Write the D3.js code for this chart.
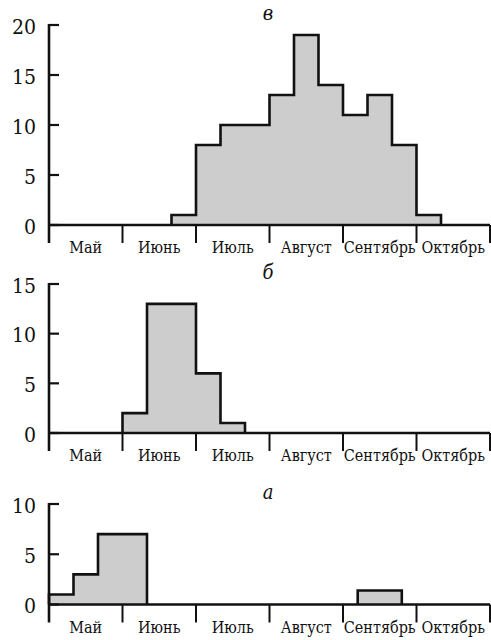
<!DOCTYPE html>
<html>
<head>
<meta charset="utf-8">
<script src="https://cdn.jsdelivr.net/npm/d3@7"></script>
<style>
  html, body { margin: 0; padding: 0; background: #fff; }
  svg { display: block; }
</style>
</head>
<body>
<svg id="chart" width="491" height="640"></svg>
<script>
// Month names along every x axis; each month is split into three ten-day periods
const months = ["Май", "Июнь", "Июль", "Август", "Сентябрь", "Октябрь"];

// Panel в: counts per ten-day period (period index counted from 1–10 May)
const vStart  = [5, 6, 7, 8, 9, 10, 11, 12, 13, 14, 15];
const vEnd    = [6, 7, 8, 9, 10, 11, 12, 13, 14, 15, 16];
const vCounts = [1, 8, 10, 10, 13, 19, 14, 11, 13, 8, 1];
const vTicks  = [0, 5, 10, 15, 20];

// Panel б
const bStart  = [3, 4, 5, 6, 7];
const bEnd    = [4, 5, 6, 7, 8];
const bCounts = [2, 13, 13, 6, 1];
const bTicks  = [0, 5, 10, 15];

// Panel а (the autumn record spans a shorter interval)
const aStart  = [0, 1, 2, 3, 12.6];
const aEnd    = [1, 2, 3, 4, 14.4];
const aCounts = [1, 3, 7, 7, 1.4];
const aTicks  = [0, 5, 10];

const panels = [
  { letter: "в", start: vStart, end: vEnd, counts: vCounts, ticks: vTicks, top: 25,  zero: 225 },
  { letter: "б", start: bStart, end: bEnd, counts: bCounts, ticks: bTicks, top: 284, zero: 433 },
  { letter: "а", start: aStart, end: aEnd, counts: aCounts, ticks: aTicks, top: 504, zero: 604.5 }
];

const FONT = "'DejaVu Serif Condensed', 'DejaVu Serif', serif";

const svg = d3.select("#chart");
const x = d3.scaleLinear().domain([0, 18]).range([49, 490]);

panels.forEach(p => {
  const yMax = d3.max(p.ticks);
  const y = d3.scaleLinear().domain([0, yMax]).range([p.zero, p.top]);
  const g = svg.append("g");

  // Group bins into contiguous runs and trace each run as a stepped outline
  const bins = p.start.map((s, i) => ({ s, e: p.end[i], v: p.counts[i] }));
  const runs = [];
  bins.forEach(b => {
    const last = runs[runs.length - 1];
    if (last && Math.abs(last[last.length - 1].e - b.s) < 1e-9) last.push(b);
    else runs.push([b]);
  });
  const line = d3.line().x(d => x(d[0])).y(d => y(d[1]));
  runs.forEach(run => {
    const pts = [[run[0].s, 0]];
    run.forEach(b => { pts.push([b.s, b.v]); pts.push([b.e, b.v]); });
    pts.push([run[run.length - 1].e, 0]);
    g.append("path")
      .attr("d", line(pts) + "Z")
      .attr("fill", "#cdcdcd")
      .attr("stroke", "none");
    g.append("path")
      .attr("d", line(pts))
      .attr("fill", "none")
      .attr("stroke", "#111")
      .attr("stroke-width", 2.6)
      .attr("stroke-linejoin", "miter");
  });

  // Horizontal baseline
  g.append("line")
    .attr("x1", x(0)).attr("x2", x(18))
    .attr("y1", y(0)).attr("y2", y(0))
    .attr("stroke", "#111").attr("stroke-width", 2.6);

  // Vertical axis, extending below the baseline like the month ticks
  g.append("line")
    .attr("x1", x(0)).attr("x2", x(0))
    .attr("y1", y(yMax) - 1).attr("y2", y(0) + 18)
    .attr("stroke", "#111").attr("stroke-width", 2.6);

  // Inward y ticks and their labels
  p.ticks.forEach(t => {
    g.append("line")
      .attr("x1", x(0)).attr("x2", x(0) + 10)
      .attr("y1", y(t)).attr("y2", y(t))
      .attr("stroke", "#111").attr("stroke-width", 2.2);
    g.append("text")
      .attr("x", 36).attr("y", y(t) + 8.5)
      .attr("text-anchor", "end")
      .style("font-family", FONT)
      .attr("font-size", 21)
      .attr("fill", "#111")
      .text(t);
  });

  // Month boundary ticks and month names
  d3.range(1, 7).forEach(i => {
    g.append("line")
      .attr("x1", x(i * 3)).attr("x2", x(i * 3))
      .attr("y1", y(0)).attr("y2", y(0) + 18)
      .attr("stroke", "#111").attr("stroke-width", 2);
  });
  months.forEach((m, i) => {
    g.append("text")
      .attr("x", x(i * 3 + 1.5)).attr("y", y(0) + 28)
      .attr("text-anchor", "middle")
      .style("font-family", FONT)
      .attr("font-size", 16)
      .attr("fill", "#111")
      .text(m);
  });

  // Panel letter
  g.append("text")
    .attr("x", 268).attr("y", p.top - 5)
    .attr("text-anchor", "middle")
    .style("font-family", FONT)
    .attr("font-size", 20)
    .attr("font-style", "italic")
    .attr("fill", "#111")
    .text(p.letter);
});
</script>
</body>
</html>
